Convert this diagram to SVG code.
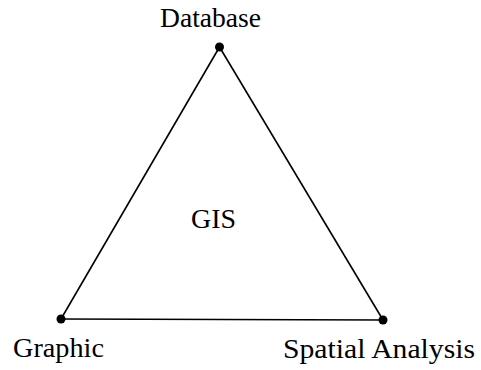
<svg xmlns="http://www.w3.org/2000/svg" width="481" height="370" viewBox="0 0 481 370">
<style>
.lbl{font-family:"Liberation Serif","Times New Roman",serif;font-size:28px;fill:#000}
.edge{stroke:#000;stroke-width:1.6;fill:none}
.dot{fill:#000}
</style>
<rect width="481" height="370" fill="#fff"/>
<g id="connectors">
<line class="edge" x1="219.5" y1="47" x2="61" y2="319"/>
<line class="edge" x1="219.5" y1="47" x2="383" y2="320"/>
<line class="edge" x1="61" y1="319" x2="383" y2="320"/>
</g>
<g id="database">
<circle class="dot" cx="219.5" cy="47" r="4.5"/>
<text class="lbl" x="160" y="27" textLength="101" lengthAdjust="spacingAndGlyphs">Database</text>
</g>
<g id="graphic">
<circle class="dot" cx="61" cy="319" r="4.5"/>
<text class="lbl" x="13" y="357" textLength="91" lengthAdjust="spacingAndGlyphs">Graphic</text>
</g>
<g id="spatial">
<circle class="dot" cx="383" cy="320" r="4.5"/>
<text class="lbl" x="283" y="358" textLength="192" lengthAdjust="spacingAndGlyphs">Spatial Analysis</text>
</g>
<g id="gis">
<text class="lbl" x="191" y="228" textLength="45" lengthAdjust="spacingAndGlyphs">GIS</text>
</g>
</svg>
